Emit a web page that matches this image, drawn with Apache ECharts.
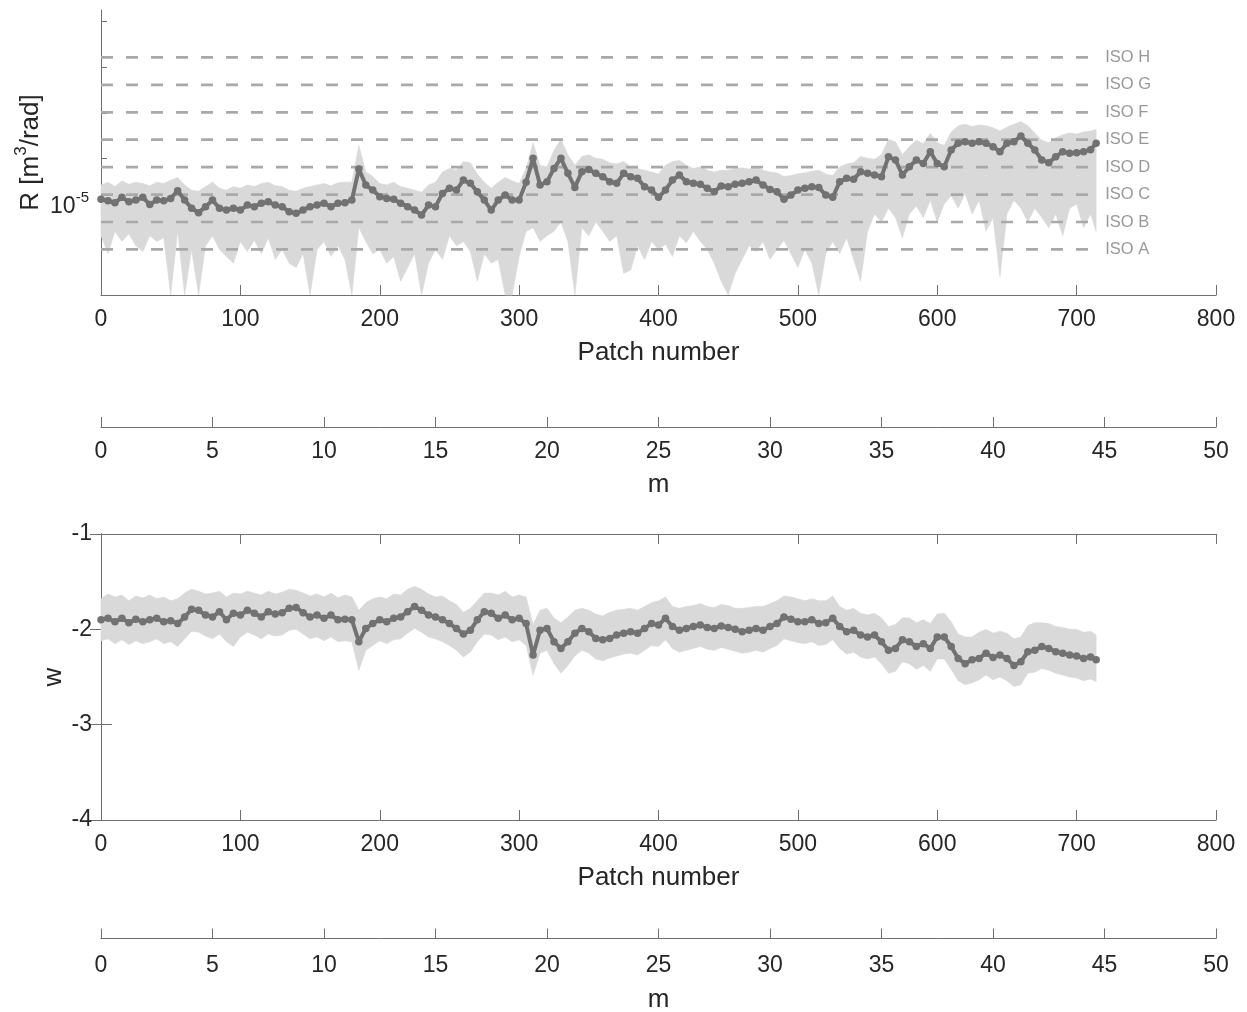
<!DOCTYPE html>
<html><head><meta charset="utf-8">
<script src="https://cdn.jsdelivr.net/npm/echarts@6/dist/echarts.min.js"></script>
<style>html,body{margin:0;padding:0;background:#fff}#c{width:1247px;height:1012px}</style>
</head><body><div id="c"></div>
<script>
// ---- sample positions (patch number), every 5 patches + last patch ----
const PATCH_STEP = 5;
const patchNumbers = [...Array(143).keys()].map(i => i * PATCH_STEP).concat([714]);

// ---- top panel: R in units of 1e-6 m^3/rad ----
const R_UNIT = 1e-6;
const rMean = [
 12.6,11.7,10.6,13.9,11.1,12.1,13.9,9.7,12.1,11.7,
 13.2,19.4,12.1,8.0,6.4,8.7,12.1,8.0,7.3,8.0,
 7.3,9.4,8.7,10.3,11.1,9.4,8.7,6.7,6.2,7.3,
 8.7,9.4,10.3,8.7,10.3,10.6,12.1,58,25.9,20.1,
 14.4,13.2,12.6,10.3,8.7,7.3,5.7,9.4,8.7,17.0,
 21.9,20.1,33.3,28.2,18.5,12.1,7.3,12.1,15.6,12.1,
 12.1,30,100,25.9,30.6,60,100,46.8,23,51,
 57,46.8,39.5,30.6,28.2,46.8,39.5,36.3,23.8,20.1,
 13.9,20.1,33.3,43,30.6,28.2,27,21.9,18.5,24.8,
 23.8,27,28.2,30.6,33.3,25.9,20.8,18.5,12.6,15.6,
 20.1,21.9,23.8,23,15.6,13.9,30.6,36.3,34.5,51,
 46.8,43,39.5,108,92,43,65.5,92,77,140,
 77,65.5,152,214,232,214,232,214,180,140,
 214,232,309,214,152,92,80,108,140,129,
 133,140,155,
 214];
const rUpper = [
 26,30,24,32,27,30,28,25,30,28,
 33,38,26,20,19,24,30,22,20,24,
 22,26,24,28,30,25,24,20,19,22,
 24,26,28,25,29,30,30,190,50,40,
 28,26,30,24,22,20,18,26,30,50,
 60,55,85,80,45,30,22,30,38,32,
 28,60,220,70,65,150,260,120,70,110,
 120,100,95,80,75,85,65,60,55,50,
 45,70,85,90,70,60,65,55,50,55,
 55,60,62,58,65,55,50,48,40,42,
 46,48,52,55,45,42,65,75,80,110,
 100,95,120,260,230,120,180,250,210,350,
 220,190,380,520,560,500,540,520,470,400,
 480,560,640,520,360,250,220,280,330,360,
 340,380,400,
 430];
const rLower = [
 2.0,0.8,2.5,1.5,2.2,1.2,0.9,2.0,1.5,1.8,
 0.1,2.5,0.1,1.0,0.1,1.2,2.0,1.0,0.7,0.5,
 1.5,0.9,1.6,0.8,1.8,0.6,1.0,0.5,0.4,0.8,
 0.1,1.0,1.5,0.7,1.2,0.6,0.1,3.0,1.5,0.8,
 1.0,0.5,0.7,0.2,0.4,0.8,0.1,0.5,1.0,0.6,
 2.0,1.2,1.5,0.9,0.2,0.8,0.5,0.6,0.1,0.1,
 0.7,2.5,3.0,1.5,2.0,2.5,4.0,1.5,0.1,3.0,
 2.0,4.0,2.5,1.5,2.0,0.3,0.35,1.2,0.6,1.5,
 1.0,1.3,0.7,2.0,1.4,2.5,1.5,1.0,0.5,0.2,
 0.1,0.3,0.6,1.2,0.9,1.5,0.6,1.0,1.6,0.8,
 0.4,1.0,0.5,0.1,0.8,1.5,0.8,1.8,0.6,0.2,
 2.5,6.0,4.0,8.0,5.0,1.8,6.0,9.0,5.0,12,
 4.0,10,15,8.0,17,6.0,12,2.5,5.0,0.25,
 6.0,12,8,4,8,5,3,6,2.0,8,
 10,3.0,6,
 2.5];

// ISO roughness classes (units of 1e-6)
const isoNames  = ['ISO A','ISO B','ISO C','ISO D','ISO E','ISO F','ISO G','ISO H'];
const isoLevels = [1, 4, 16, 64, 256, 1024, 4096, 16384];
const isoEnd = 714;

// ---- bottom panel: w ----
const wMean = [
 -1.90,-1.885,-1.92,-1.885,-1.93,-1.895,-1.92,-1.90,-1.885,-1.92,
 -1.91,-1.94,-1.87,-1.79,-1.80,-1.85,-1.87,-1.815,-1.90,-1.83,
 -1.85,-1.80,-1.83,-1.87,-1.815,-1.84,-1.825,-1.78,-1.77,-1.825,
 -1.87,-1.85,-1.885,-1.85,-1.90,-1.895,-1.90,-2.13,-1.99,-1.94,
 -1.90,-1.92,-1.885,-1.87,-1.815,-1.76,-1.80,-1.85,-1.87,-1.90,
 -1.94,-1.99,-2.05,-2.01,-1.90,-1.815,-1.83,-1.885,-1.85,-1.90,
 -1.885,-1.94,-2.27,-2.01,-1.99,-2.13,-2.20,-2.13,-2.04,-1.99,
 -2.025,-2.095,-2.11,-2.095,-2.06,-2.04,-2.025,-2.04,-1.99,-1.94,
 -1.955,-1.885,-1.97,-2.01,-1.99,-1.97,-1.955,-1.98,-1.99,-1.965,
 -1.98,-2.00,-2.025,-2.01,-1.99,-2.01,-1.97,-1.94,-1.87,-1.895,
 -1.92,-1.92,-1.90,-1.94,-1.93,-1.885,-1.97,-2.025,-2.01,-2.06,
 -2.08,-2.06,-2.13,-2.22,-2.20,-2.11,-2.13,-2.18,-2.15,-2.20,
 -2.08,-2.08,-2.18,-2.305,-2.36,-2.32,-2.305,-2.25,-2.295,-2.27,
 -2.305,-2.38,-2.34,-2.235,-2.22,-2.18,-2.20,-2.235,-2.25,-2.27,
 -2.28,-2.305,-2.29,
 -2.32];
const wUpper = [
 -1.68,-1.63,-1.66,-1.64,-1.70,-1.65,-1.67,-1.64,-1.68,-1.66,
 -1.70,-1.68,-1.62,-1.58,-1.60,-1.63,-1.62,-1.60,-1.66,-1.62,
 -1.63,-1.60,-1.62,-1.64,-1.60,-1.63,-1.61,-1.58,-1.59,-1.62,
 -1.65,-1.63,-1.66,-1.62,-1.67,-1.64,-1.66,-1.80,-1.72,-1.68,
 -1.66,-1.68,-1.63,-1.64,-1.58,-1.55,-1.58,-1.63,-1.66,-1.65,
 -1.70,-1.74,-1.82,-1.78,-1.70,-1.62,-1.62,-1.64,-1.60,-1.66,
 -1.64,-1.66,-1.95,-1.80,-1.78,-1.88,-1.93,-1.87,-1.80,-1.78,
 -1.80,-1.84,-1.86,-1.82,-1.80,-1.79,-1.78,-1.80,-1.76,-1.72,
 -1.70,-1.66,-1.76,-1.78,-1.76,-1.75,-1.73,-1.76,-1.77,-1.74,
 -1.75,-1.78,-1.78,-1.77,-1.76,-1.76,-1.73,-1.70,-1.65,-1.66,
 -1.68,-1.70,-1.68,-1.70,-1.70,-1.65,-1.76,-1.80,-1.78,-1.83,
 -1.85,-1.83,-1.88,-1.97,-1.95,-1.88,-1.88,-1.93,-1.90,-1.94,
 -1.84,-1.83,-1.92,-2.05,-2.08,-2.08,-2.03,-2.00,-2.04,-2.02,
 -2.04,-2.10,-2.08,-1.96,-1.93,-1.93,-1.94,-1.97,-1.98,-2.00,
 -2.00,-2.03,-2.02,
 -2.06];
const wLower = [
 -2.12,-2.10,-2.15,-2.11,-2.16,-2.12,-2.15,-2.13,-2.10,-2.15,
 -2.13,-2.18,-2.10,-2.02,-2.03,-2.07,-2.10,-2.05,-2.13,-2.18,
 -2.08,-2.03,-2.06,-2.10,-2.05,-2.07,-2.06,-2.01,-2.00,-2.05,
 -2.10,-2.08,-2.12,-2.08,-2.13,-2.12,-2.13,-2.43,-2.22,-2.17,
 -2.12,-2.15,-2.11,-2.10,-2.04,-1.99,-2.03,-2.08,-2.10,-2.13,
 -2.17,-2.22,-2.29,-2.24,-2.13,-2.05,-2.06,-2.11,-2.08,-2.13,
 -2.11,-2.17,-2.48,-2.25,-2.22,-2.36,-2.46,-2.38,-2.28,-2.22,
 -2.25,-2.31,-2.33,-2.30,-2.28,-2.26,-2.25,-2.27,-2.22,-2.17,
 -2.18,-2.11,-2.20,-2.24,-2.22,-2.20,-2.18,-2.21,-2.22,-2.19,
 -2.21,-2.23,-2.25,-2.24,-2.22,-2.24,-2.20,-2.17,-2.10,-2.12,
 -2.14,-2.15,-2.13,-2.17,-2.16,-2.11,-2.20,-2.26,-2.24,-2.29,
 -2.31,-2.29,-2.36,-2.46,-2.44,-2.34,-2.36,-2.42,-2.38,-2.44,
 -2.31,-2.31,-2.42,-2.54,-2.58,-2.56,-2.53,-2.48,-2.53,-2.50,
 -2.54,-2.60,-2.58,-2.46,-2.45,-2.41,-2.43,-2.46,-2.48,-2.50,
 -2.51,-2.54,-2.52,
 -2.55];

// ---- axes ticks ----
const patchTicks = {min: 0, max: 800, interval: 100};
const meterTicks = {min: 0, max: 50, interval: 5};
const wTicks = {min: -4, max: -1, interval: 1};
const rDecadeTicks = [1e-7, 1e-6, 1e-5, 1e-4, 1e-3, 1e-2, 1e-1];
const rLabelTicks = [1e-5];

// ---- styling ----
const FONT = 'Liberation Sans, Arial, Helvetica, sans-serif';
const AX = '#6f6f6f', TXT = '#262626', DOT = '#727272', BAND = '#d9d9d9';
const TICK_FS = 23, NAME_FS = 26;

function bandSeries(xi, yi, lo, hi, scale) {
  return {
    type: 'custom', xAxisIndex: xi, yAxisIndex: yi, z: 1, silent: true,
    data: patchNumbers.map((p, i) => [p, lo[i] * scale, hi[i] * scale]),
    encode: {x: 0, y: [1, 2]},
    renderItem(params, api) {
      if (params.dataIndex !== 0) return null;
      const top = patchNumbers.map((p, i) => api.coord([p, hi[i] * scale]));
      const bot = patchNumbers.map((p, i) => api.coord([p, lo[i] * scale])).reverse();
      return {type: 'polygon', shape: {points: top.concat(bot)}, style: {fill: BAND, stroke: BAND, lineWidth: 0.6}};
    }
  };
}
function meanSeries(xi, yi, vals, scale) {
  return {
    type: 'line', xAxisIndex: xi, yAxisIndex: yi, z: 5, silent: true,
    data: patchNumbers.map((p, i) => [p, vals[i] * scale]),
    symbol: 'circle', symbolSize: 7.5, showSymbol: true, showAllSymbol: true,
    lineStyle: {color: DOT, width: 4}, itemStyle: {color: DOT}
  };
}
const isoSeries = isoLevels.map((v, k) => ({
  type: 'line', xAxisIndex: 0, yAxisIndex: 0, z: 3, silent: true,
  data: [[0, v * R_UNIT], [isoEnd, v * R_UNIT]],
  symbol: 'none',
  lineStyle: {color: '#a9a9a9', width: 2.7, type: [12, 13]},
  endLabel: {show: true, formatter: isoNames[k], color: '#999999', fontSize: 16.5, fontFamily: FONT, distance: 9}
}));

function patchAxis(gi) {
  return {
    type: 'value', gridIndex: gi, ...patchTicks,
    axisLine: {show: true, lineStyle: {color: AX, width: 1}},
    axisTick: {show: true, inside: true, length: 10, lineStyle: {color: AX}},
    axisLabel: {color: TXT, fontSize: TICK_FS, fontFamily: FONT, margin: 13},
    splitLine: {show: false},
    name: 'Patch number', nameLocation: 'middle', nameGap: 45, nameMoveOverlap: false,
    nameTextStyle: {color: TXT, fontSize: NAME_FS, fontFamily: FONT}
  };
}
function meterAxis(gi, margin, gap) {
  return {
    type: 'value', gridIndex: gi, ...meterTicks,
    axisLine: {show: true, lineStyle: {color: AX, width: 1}},
    axisTick: {show: true, inside: true, length: 10, lineStyle: {color: AX}},
    axisLabel: {color: TXT, fontSize: TICK_FS, fontFamily: FONT, margin: margin},
    splitLine: {show: false},
    name: 'm', nameLocation: 'middle', nameGap: gap, nameMoveOverlap: false,
    nameTextStyle: {color: TXT, fontSize: NAME_FS, fontFamily: FONT}
  };
}

const option = {
  animation: false,
  backgroundColor: '#ffffff',
  textStyle: {fontFamily: FONT},
  grid: [
    {left: 101, width: 1115, top: 10, height: 285},
    {left: 101, width: 1115, top: 417, height: 10},
    {left: 101, width: 1115, top: 534, height: 286},
    {left: 101, width: 1115, top: 936, height: 10}
  ],
  xAxis: [
    patchAxis(0),
    meterAxis(1, 13, 45),
    patchAxis(2),
    {type: 'value', gridIndex: 2, position: 'top', ...patchTicks,
     axisLine: {show: true, lineStyle: {color: AX, width: 1}},
     axisTick: {show: true, inside: true, length: 10, lineStyle: {color: AX}},
     axisLabel: {show: false}, splitLine: {show: false}},
    meterAxis(3, 16, 48)
  ],
  yAxis: [
    {type: 'log', logBase: 10, gridIndex: 0, min: 1e-7, max: 0.18,
     axisLine: {show: true, lineStyle: {color: AX, width: 1}},
     axisTick: {show: true, inside: true, length: 6, lineStyle: {color: AX}, customValues: rDecadeTicks},
     axisLabel: {
       margin: 12, color: TXT, fontFamily: FONT, customValues: rLabelTicks,
       formatter: v => (Math.abs(Math.log10(v) + 5) < 1e-6 ? '{b|10}{sup|-5}' : ''),
       rich: {b: {fontSize: TICK_FS, color: TXT, fontFamily: FONT, verticalAlign: 'bottom'},
              sup: {fontSize: 15, color: TXT, fontFamily: FONT, verticalAlign: 'bottom', padding: [0, 0, 13, 0]}}
     },
     splitLine: {show: false},
     name: '{b|R [m}{sup|3}{b|/rad]}', nameLocation: 'middle', nameGap: 57, nameMoveOverlap: false,
     nameTextStyle: {
       rich: {b: {fontSize: NAME_FS, color: TXT, fontFamily: FONT, verticalAlign: 'bottom'},
              sup: {fontSize: 17, color: TXT, fontFamily: FONT, verticalAlign: 'bottom', padding: [0, 0, 14, 0]}}
     }},
    {type: 'value', gridIndex: 1, min: 0, max: 1, show: false},
    {type: 'value', gridIndex: 2, ...wTicks,
     axisLine: {show: true, lineStyle: {color: AX, width: 1}},
     axisTick: {show: true, inside: true, length: 11, lineStyle: {color: AX}},
     axisLabel: {color: TXT, fontSize: TICK_FS, fontFamily: FONT, margin: 9},
     splitLine: {show: false},
     name: 'w', nameLocation: 'middle', nameGap: 34, nameMoveOverlap: false,
     nameTextStyle: {color: TXT, fontSize: NAME_FS, fontFamily: FONT}},
    {type: 'value', gridIndex: 2, position: 'right', ...wTicks,
     axisLine: {show: true, lineStyle: {color: AX, width: 1}},
     axisTick: {show: true, inside: true, length: 11, lineStyle: {color: AX}},
     axisLabel: {show: false}, splitLine: {show: false}},
    {type: 'value', gridIndex: 3, min: 0, max: 1, show: false}
  ],
  series: [
    bandSeries(0, 0, rLower, rUpper, R_UNIT),
    ...isoSeries,
    meanSeries(0, 0, rMean, R_UNIT),
    bandSeries(2, 2, wLower, wUpper, 1),
    meanSeries(2, 2, wMean, 1)
  ]
};
const chart = echarts.init(document.getElementById('c'), null, {renderer: 'canvas'});
chart.setOption(option);
</script>
</body></html>
